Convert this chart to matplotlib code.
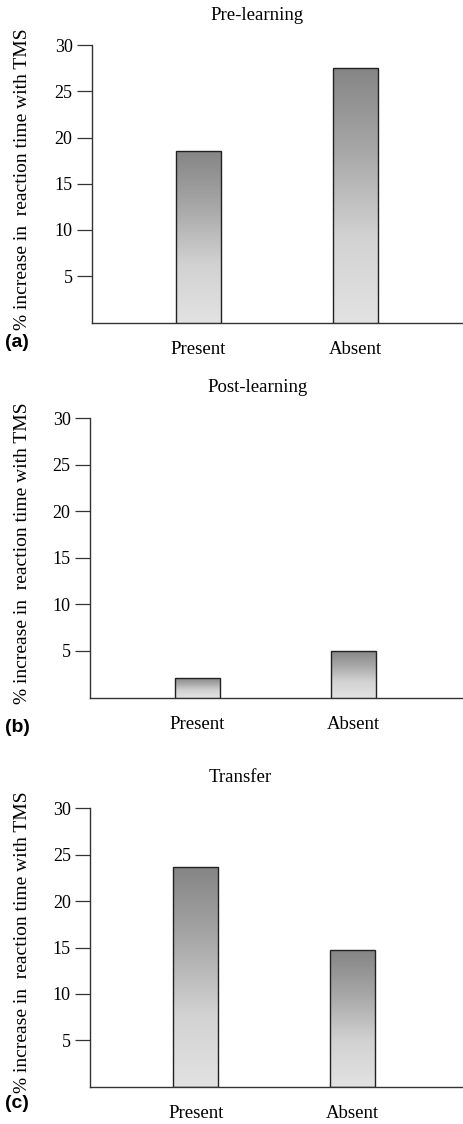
import numpy as np
import matplotlib
matplotlib.use("Agg")
import matplotlib.pyplot as plt
from matplotlib.colors import LinearSegmentedColormap

# ---- data ----
categories = ["Present", "Absent"]
titles = ["Pre-learning", "Post-learning", "Transfer"]
panel_letters = ["(a)", "(b)", "(c)"]
pre_learning = [18.5, 27.5]
post_learning = [2.1, 5.0]
transfer = [23.7, 14.7]
yticks = [5, 10, 15, 20, 25, 30]
ylabel = "% increase in  reaction time with TMS"

series = [pre_learning, post_learning, transfer]

W, H = 464, 1124
fig = plt.figure(figsize=(W / 100, H / 100), dpi=100)

serif = ["Liberation Serif", "DejaVu Serif"]
cmap = LinearSegmentedColormap.from_list("g", ["#e2e2e2", "#d2d2d2", "#a8a8a8", "#858585"])

# layout in pixels: (axis_x, y_of_30, y_of_0, center_present, center_absent, title_x, title_y, tick_y, letter_y)
layout = [
    (92, 45, 322.5, 198.5, 355.5, 257, 15, 349, 342),
    (90, 418.3, 697.5, 197.5, 353.8, 258, 388, 723, 727),
    (90.3, 808.3, 1086.7, 196, 352.8, 240, 778, 1112.7, 1103),
]

for vals, title, letter, lay in zip(series, titles, panel_letters, layout):
    ax_x, y30, y0, c0, c1, tx, ty, tky, ly = lay
    left = ax_x / W
    bottom = (H - y0) / H
    height = (y0 - y30) / H
    ax = fig.add_axes([left, bottom, 1 - left, height])
    spacing = c1 - c0
    x = np.arange(len(categories))
    xl = -(c0 - ax_x) / spacing
    xr = 1 + (W - c1) / spacing
    bw = 45 / spacing
    bars = ax.bar(x, vals, width=bw, facecolor="none", edgecolor="#222222",
                  linewidth=1.0, zorder=3)
    grad = np.linspace(0, 1, 256).reshape(-1, 1)
    for b in bars:
        bx, by = b.get_x(), b.get_y()
        bwid, bh = b.get_width(), b.get_height()
        im = ax.imshow(grad, cmap=cmap, origin="lower", aspect="auto",
                       extent=(bx, bx + bwid, by, by + bh), zorder=2,
                       interpolation="bilinear")
        im.set_clip_path(b)
    ax.set_xlim(xl, xr)
    ax.set_ylim(0, 30)
    ax.set_yticks(yticks)
    ax.set_yticklabels([str(t) for t in yticks], fontfamily=serif, fontsize=13)
    ax.set_xticks(x)
    ax.set_xticklabels(categories, fontfamily=serif, fontsize=13.5)
    ax.tick_params(axis="y", direction="out", length=10.5, width=0.9, pad=3.5,
                   color="#333333")
    ax.tick_params(axis="x", length=0, pad=13)
    for s in ["top", "right"]:
        ax.spines[s].set_visible(False)
    for s in ["left", "bottom"]:
        ax.spines[s].set_linewidth(1.0)
        ax.spines[s].set_color("#333333")
    ax.patch.set_alpha(0)
    fig.text(23 / W, 1 - ((y30 + y0) / 2 - 5) / H, ylabel, rotation=90,
             ha="center", va="center", fontfamily=serif, fontsize=14)
    fig.text(tx / W, 1 - ty / H, title, ha="center", va="center",
             fontfamily=serif, fontsize=13.5)
    fig.text(5 / W, 1 - ly / H, letter, ha="left", va="center",
             fontfamily=["Liberation Sans", "DejaVu Sans"], fontweight="bold",
             fontsize=14)

fig.savefig("out.png", dpi=100, facecolor="white")
